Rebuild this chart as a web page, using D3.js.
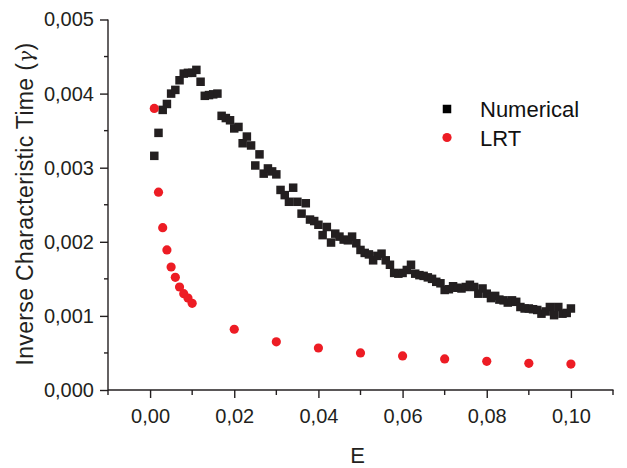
<!DOCTYPE html>
<html>
<head>
<meta charset="utf-8">
<script src="https://cdn.jsdelivr.net/npm/d3@7"></script>
<style>
    body { margin: 0; background: #fff; }
    svg { display: block; font-family: "Liberation Sans", Arial, Helvetica, sans-serif; }
</style>
</head>
<body>
<div id="chart"></div>
<script>
// Numerical series (E, value in units of 1e-3)
const numE = [
    0.001, 0.002, 0.003, 0.004, 0.005, 0.006, 0.007, 0.008, 0.009, 0.010,
    0.011, 0.012, 0.013, 0.014, 0.015, 0.016, 0.017, 0.018, 0.019, 0.020,
    0.021, 0.022, 0.023, 0.024, 0.025, 0.026, 0.027, 0.028, 0.029, 0.030,
    0.031, 0.032, 0.033, 0.034, 0.035, 0.036, 0.037, 0.038, 0.039, 0.040,
    0.041, 0.042, 0.043, 0.044, 0.045, 0.046, 0.047, 0.048, 0.049, 0.050,
    0.051, 0.052, 0.053, 0.054, 0.055, 0.056, 0.057, 0.058, 0.059, 0.060,
    0.061, 0.062, 0.063, 0.064, 0.065, 0.066, 0.067, 0.068, 0.069, 0.070,
    0.071, 0.072, 0.073, 0.074, 0.075, 0.076, 0.077, 0.078, 0.079, 0.080,
    0.081, 0.082, 0.083, 0.084, 0.085, 0.086, 0.087, 0.088, 0.089, 0.090,
    0.091, 0.092, 0.093, 0.094, 0.095, 0.096, 0.097, 0.098, 0.099, 0.100,
]
const numVal = [
    3.16, 3.47, 3.78, 3.86, 4.00, 4.05, 4.18, 4.27, 4.28, 4.28,
    4.32, 4.16, 3.97, 3.98, 3.99, 4.00, 3.70, 3.67, 3.64, 3.53,
    3.55, 3.33, 3.42, 3.30, 3.03, 3.18, 2.92, 2.99, 2.95, 2.91,
    2.70, 2.63, 2.54, 2.73, 2.54, 2.38, 2.52, 2.30, 2.28, 2.23,
    2.09, 2.20, 1.99, 2.11, 2.07, 2.03, 2.02, 2.07, 1.98, 1.89,
    1.85, 1.83, 1.75, 1.81, 1.84, 1.75, 1.69, 1.58, 1.57, 1.58,
    1.62, 1.69, 1.57, 1.55, 1.54, 1.52, 1.50, 1.46, 1.44, 1.35,
    1.36, 1.40, 1.38, 1.37, 1.39, 1.42, 1.39, 1.30, 1.37, 1.30,
    1.24, 1.27, 1.22, 1.21, 1.18, 1.21, 1.19, 1.12, 1.10, 1.10,
    1.09, 1.08, 1.03, 1.06, 1.12, 1.01, 1.12, 1.03, 1.04, 1.10,
]

// LRT series
const lrtE = [
    0.001, 0.002, 0.003, 0.004, 0.005, 0.006, 0.007, 0.008, 0.009, 0.010,
    0.02, 0.03, 0.04, 0.05, 0.06, 0.07, 0.08, 0.09, 0.10,
]
const lrtVal = [
    3.80, 2.67, 2.19, 1.89, 1.66, 1.52, 1.39, 1.30, 1.24, 1.17,
    0.82, 0.65, 0.567, 0.50, 0.46, 0.42, 0.387, 0.36, 0.35,
]

const xTicks = [0.00, 0.02, 0.04, 0.06, 0.08, 0.10]
const xMinor = [-0.01, 0.01, 0.03, 0.05, 0.07, 0.09, 0.11]
const yTicks = [0.000, 0.001, 0.002, 0.003, 0.004, 0.005]
const yMinor = [0.0005, 0.0015, 0.0025, 0.0035, 0.0045]

function drawChart() {
    const W = 627
    const H = 468
    const mLeft = 108
    const mRight = 613
    const mBottom = 390
    const mTop = 19.5
    const ink = "#231f20"
    const red = "#ed1c24"

    const svg = d3.select("#chart").append("svg")
        .attr("width", W)
        .attr("height", H)

    const x = d3.scaleLinear().domain([-0.01, 0.11]).range([mLeft, mRight])
    const y = d3.scaleLinear().domain([0, 0.005]).range([mBottom, mTop])

    const fmt = (digits) => (d) => d.toFixed(digits).replace(".", ",")

    // x axis
    const xAxis = svg.append("g")
        .attr("transform", "translate(0," + mBottom + ")")
        .call(d3.axisBottom(x).tickValues(xTicks).tickFormat(fmt(2))
            .tickSizeInner(8).tickSizeOuter(0).tickPadding(6))
    xAxis.append("g").attr("class", "minor").selectAll("line")
        .data(xMinor)
        .enter().append("line")
        .attr("x1", (d) => x(d)).attr("x2", (d) => x(d))
        .attr("y1", 0).attr("y2", 5)
    xAxis.select(".domain").attr("d", "M" + mLeft + ",0H" + (mRight + 0.5))

    // y axis
    const yAxis = svg.append("g")
        .attr("transform", "translate(" + mLeft + ",0)")
        .call(d3.axisLeft(y).tickValues(yTicks).tickFormat(fmt(3))
            .tickSizeInner(8).tickSizeOuter(0).tickPadding(6))
    yAxis.append("g").attr("class", "minor").selectAll("line")
        .data(yMinor)
        .enter().append("line")
        .attr("x1", -4).attr("x2", 0)
        .attr("y1", (d) => y(d)).attr("y2", (d) => y(d))
    yAxis.select(".domain").attr("d", "M0," + (mBottom + 0.5) + "V" + mTop)

    svg.selectAll(".domain, .tick line, .minor line")
        .attr("stroke", ink)
        .attr("stroke-width", 1.4)
    svg.selectAll(".tick text")
        .attr("fill", ink)
        .style("font-size", "20px")
        .style("font-family", "'Liberation Sans', Arial, sans-serif")
    xAxis.selectAll(".tick text").attr("dy", "0.95em")

    // axis titles
    svg.append("text")
        .attr("x", (mLeft + mRight) / 2 - 3)
        .attr("y", 463)
        .attr("text-anchor", "middle")
        .attr("fill", ink)
        .style("font-size", "22px")
        .text("E")

    const yTitle = svg.append("text")
        .attr("transform", "translate(33,204) rotate(-90)")
        .attr("text-anchor", "middle")
        .attr("fill", ink)
        .style("font-size", "23px")
        .style("letter-spacing", "0.35px")
    yTitle.append("tspan").text("Inverse Characteristic Time (")
    yTitle.append("tspan")
        .style("font-family", "'DejaVu Serif', 'Liberation Serif', serif")
        .style("font-style", "italic")
        .style("font-size", "20px")
        .text("γ")
    yTitle.append("tspan").text(")")

    // numerical points
    const numData = numE.map((e, i) => ({ e: e, v: numVal[i] / 1000 }))
    const sq = 8.5
    svg.append("g")
        .selectAll("rect")
        .data(numData)
        .enter().append("rect")
        .attr("x", (d) => x(d.e) - sq / 2)
        .attr("y", (d) => y(d.v) - sq / 2)
        .attr("width", sq)
        .attr("height", sq)
        .attr("fill", ink)

    // LRT points
    const lrtData = lrtE.map((e, i) => ({ e: e, v: lrtVal[i] / 1000 }))
    svg.append("g")
        .selectAll("circle")
        .data(lrtData)
        .enter().append("circle")
        .attr("cx", (d) => x(d.e))
        .attr("cy", (d) => y(d.v))
        .attr("r", 4.6)
        .attr("fill", red)

    // legend
    const legend = svg.append("g")
    legend.append("rect")
        .attr("x", 447 - 4.25).attr("y", 109 - 4.25)
        .attr("width", 8.5).attr("height", 8.5)
        .attr("fill", "#000")
    legend.append("text")
        .attr("x", 480).attr("y", 117)
        .attr("fill", "#111")
        .style("font-size", "22px")
        .text("Numerical")
    legend.append("circle")
        .attr("cx", 447).attr("cy", 137.5)
        .attr("r", 4.6)
        .attr("fill", red)
    legend.append("text")
        .attr("x", 480).attr("y", 146)
        .attr("fill", "#111")
        .style("font-size", "22px")
        .text("LRT")
}

drawChart()
</script>
</body>
</html>
